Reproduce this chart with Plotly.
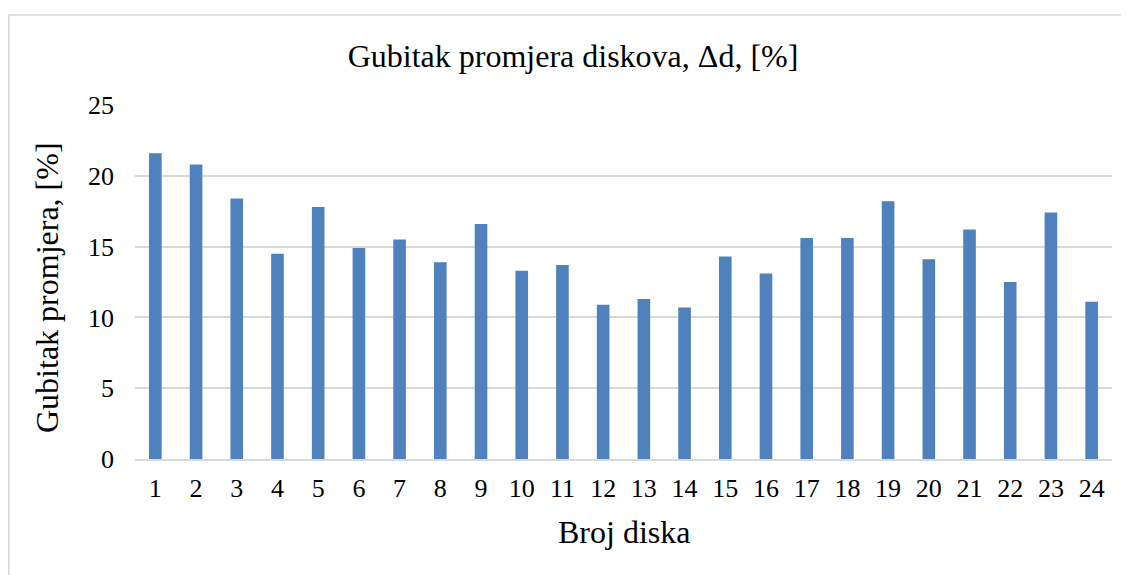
import plotly.graph_objects as go

categories = [str(i) for i in range(1, 25)]
loss_pct = [21.6, 20.8, 18.4, 14.5, 17.8, 14.9, 15.5, 13.9, 16.6, 13.3, 13.7, 10.9,
            11.3, 10.7, 14.3, 13.1, 15.6, 15.6, 18.2, 14.1, 16.2, 12.5, 17.4, 11.1]
y_ticks = [0, 5, 10, 15, 20, 25]

title_text = "Gubitak promjera diskova, Δd, [%]"
x_title = "Broj diska"
y_title = "Gubitak promjera, [%]"

FONT = "Liberation Serif, Times New Roman, serif"
GRID = "#D9D9D9"

fig = go.Figure(go.Bar(x=categories, y=loss_pct, marker_color="#4F81BD",
                       marker_line_width=0))

OFF = 8  # page body margin
W, H = 1129 - OFF, 575 - OFF
PL, PR, PT, PB = 135, 1112, 105, 459  # plot area in page pixels
L, R, T, B = PL - OFF, W + OFF - PR, PT - OFF, H + OFF - PB
pw, ph = PR - PL, PB - PT

def px_x(px):
    return (px - PL) / pw

def px_y(py):
    return (PB - py) / ph

fig.update_layout(
    width=W, height=H,
    margin=dict(l=L, r=R, t=T, b=B, autoexpand=False),
    paper_bgcolor="white", plot_bgcolor="white",
    font=dict(family=FONT, color="#000000", size=26),
    bargap=0.69,
    showlegend=False,
    title=dict(text=title_text, x=(573 - OFF) / W, xref="container", xanchor="center",
               y=1 - (56 - OFF) / H, yref="container", yanchor="middle",
               font=dict(family=FONT, size=32, color="#000000")),
    xaxis=dict(type="category", showgrid=False, showline=True, linecolor=GRID,
               linewidth=1.5, ticks="", ticklabelstandoff=5,
               tickfont=dict(size=26)),
    yaxis=dict(range=[0, 25], tickvals=y_ticks, showgrid=True, gridcolor=GRID,
               gridwidth=1.5, zeroline=False, showline=False, ticks="",
               ticklabelstandoff=20, tickfont=dict(size=26)),
    annotations=[
        dict(text=y_title, xref="paper", yref="paper", x=px_x(47), y=px_y(288),
             xanchor="center", yanchor="middle", textangle=-90, showarrow=False,
             font=dict(family=FONT, size=32, color="#000000")),
        dict(text=x_title, xref="paper", yref="paper", x=px_x(623.5), y=px_y(532),
             xanchor="center", yanchor="middle", showarrow=False,
             font=dict(family=FONT, size=32, color="#000000")),
    ],
    shapes=[dict(type="rect", xref="paper", yref="paper",
                 x0=px_x(8.8), x1=px_x(1129 + 20), y0=px_y(575 + 20), y1=px_y(15),
                 line=dict(color=GRID, width=1.5), fillcolor="rgba(0,0,0,0)",
                 layer="below")],
)

fig.write_html("out.html")
